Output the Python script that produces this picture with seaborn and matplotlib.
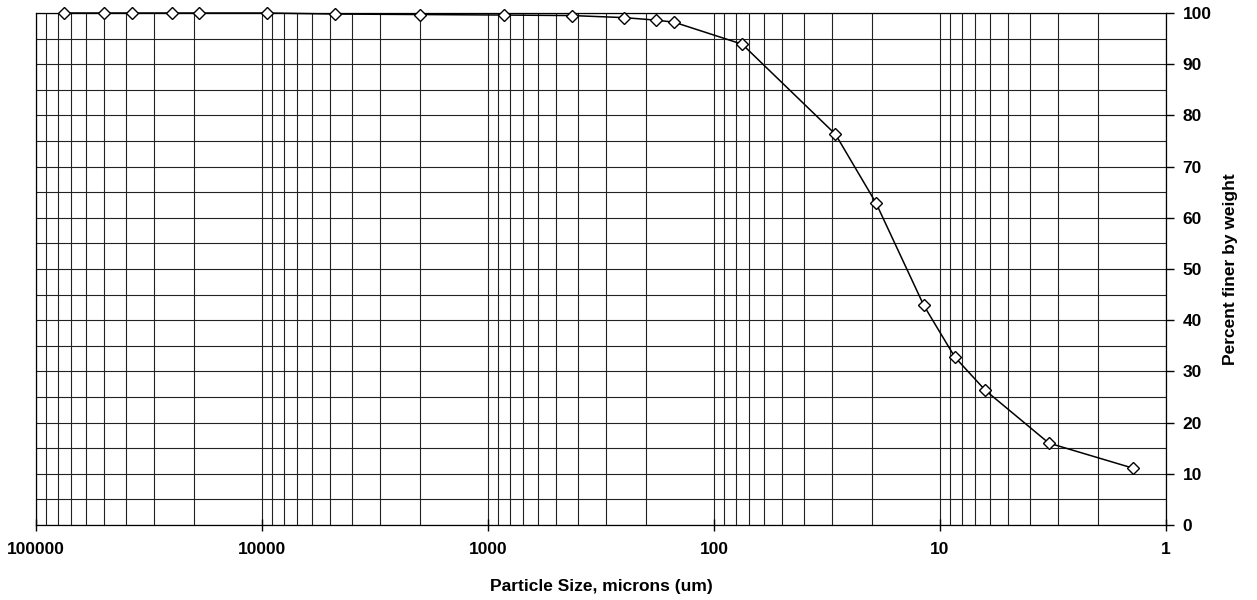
import matplotlib
matplotlib.use("Agg")
import matplotlib.pyplot as plt
from matplotlib.ticker import LogLocator, FixedLocator, NullFormatter
import seaborn as sns
import pandas as pd

# sieve + hydrometer results
particle_size_um = [75000, 50000, 37500, 25000, 19000, 9500, 4750, 2000, 850, 425,
                    250, 180, 150, 75, 29, 19.2, 11.8, 8.6, 6.3, 3.3, 1.4]
percent_finer = [100, 100, 100, 100, 100, 100, 99.8, 99.7, 99.6, 99.5,
                 99.1, 98.6, 98.2, 93.9, 76.3, 62.9, 42.9, 32.8, 26.3, 16.0, 11.1]

x_ticks = [100000, 10000, 1000, 100, 10, 1]
x_tick_labels = ["100000", "10000", "1000", "100", "10", "1"]
y_ticks = [0, 10, 20, 30, 40, 50, 60, 70, 80, 90, 100]

df = pd.DataFrame({"size": particle_size_um, "finer": percent_finer})

sns.set_style("white")
plt.rcParams['font.family'] = ['Liberation Sans', 'DejaVu Sans']
plt.rcParams['text.color'] = 'black'
plt.rcParams['axes.labelcolor'] = 'black'
plt.rcParams['xtick.color'] = 'black'
plt.rcParams['ytick.color'] = 'black'

fig = plt.figure(figsize=(12.57, 6.0), dpi=100)
ax = fig.add_axes([36 / 1257, 75 / 600, (1166 - 36) / 1257, (525 - 13) / 600])

sns.lineplot(data=df, x="size", y="finer", ax=ax, color="black", linewidth=1.1,
             marker="D", markersize=6, markerfacecolor="white",
             markeredgecolor="black", markeredgewidth=1.0, sort=False, zorder=5)
for ln in ax.lines:
    ln.set_clip_on(False)

ax.set_xscale("log")
ax.set_xlim(100000, 1)
ax.set_ylim(0, 100)

ax.xaxis.set_major_locator(FixedLocator(x_ticks))
ax.set_xticklabels(x_tick_labels)
ax.xaxis.set_minor_locator(LogLocator(base=10, subs=range(2, 10), numticks=20))
ax.xaxis.set_minor_formatter(NullFormatter())

ax.yaxis.tick_right()
ax.yaxis.set_label_position("right")
ax.set_yticks(y_ticks)
ax.set_yticks(range(5, 100, 10), minor=True)

# grid everywhere, like the old spreadsheet chart
ax.grid(True, which="both", axis="both", color="#222222", linewidth=0.8)
ax.set_axisbelow(True)

ax.tick_params(axis="y", which="major", right=True, left=False, direction="out",
               length=6, width=1, color="black", labelsize=12.5, pad=6)
ax.tick_params(axis="y", which="minor", right=False, left=False)
ax.tick_params(axis="x", which="major", bottom=True, direction="inout",
               length=8, width=1, color="black", labelsize=12.5, pad=8)
ax.tick_params(axis="x", which="minor", bottom=False)
for lab in ax.get_xticklabels() + ax.get_yticklabels():
    lab.set_fontweight("bold")

for side in ["left", "top", "right", "bottom"]:
    ax.spines[side].set_visible(True)
    ax.spines[side].set_color("black")
    ax.spines[side].set_linewidth(0.9)

ax.set_xlabel("Particle Size, microns (um)", fontsize=12.5, fontweight="bold", labelpad=16)
ax.set_ylabel("Percent finer by weight", fontsize=12.5, fontweight="bold", labelpad=8)

fig.savefig("out.png", dpi=100)
